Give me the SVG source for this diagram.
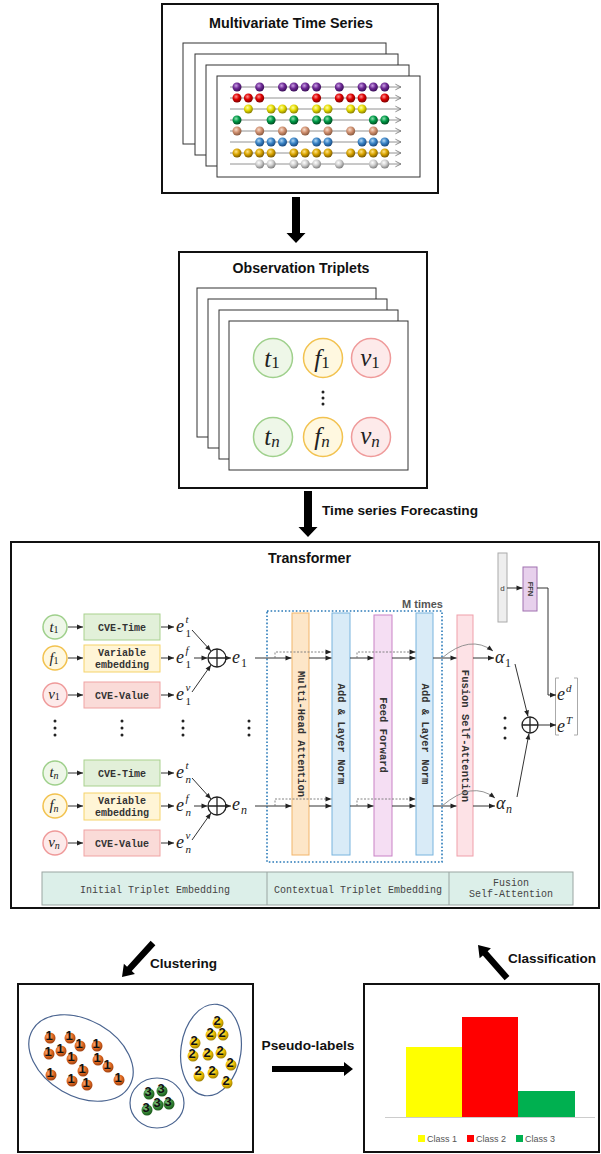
<svg xmlns="http://www.w3.org/2000/svg" width="601" height="1154" viewBox="0 0 601 1154">
<style>
.frame{fill:#fff;stroke:#111;stroke-width:2}
.page{fill:#fff;stroke:#333;stroke-width:1}
.title{font-family:"Liberation Sans",Arial,sans-serif;font-weight:bold;fill:#111}
.math{font-family:"Liberation Serif","DejaVu Serif",serif;font-style:italic;fill:#222}
.up{font-style:normal}
.mono{font-family:"Liberation Mono","DejaVu Sans Mono",monospace;font-weight:bold;fill:#333;font-size:10px}
.monol{font-family:"Liberation Mono","DejaVu Sans Mono",monospace;fill:#444;font-size:10px}
.vt{font-family:"Liberation Mono","DejaVu Sans Mono",monospace;font-weight:bold;fill:#333;font-size:10.5px}
.arr{stroke:#333;stroke-width:1;fill:none;marker-end:url(#ah)}
.dsh{stroke:#777;stroke-width:0.9;stroke-dasharray:2 1.5;fill:none;marker-end:url(#ah)}
.arc{stroke:#888;stroke-width:0.9;fill:none;marker-end:url(#ah)}
.row{stroke:#777;stroke-width:0.8;fill:none;marker-end:url(#chev)}
.dot{fill:#222}
.cg{fill:#eef7e8;stroke:#9fd08c;stroke-width:1.5}
.cy{fill:#fff8e0;stroke:#f2c24f;stroke-width:1.5}
.cr{fill:#fdeaea;stroke:#ef9a9a;stroke-width:1.5}
.bg{fill:#e2f0d9;stroke:#a9d18e}
.by{fill:#fff5d6;stroke:#f5d36b}
.br{fill:#fadbd8;stroke:#f0a3a3}
.mha{fill:#fde6c8;stroke:#f2b56b}
.an{fill:#d9ebf7;stroke:#79b4de}
.ff{fill:#f5def3;stroke:#c982c6}
.fsa{fill:#fde2e6;stroke:#ef9faa}
.band{fill:#dcefe9;stroke:#9aa5a2}
.opl{fill:none;stroke:#222;stroke-width:1.3}
.ell{fill:none;stroke:#4a6490;stroke-width:1.2}
.dig{font-family:"Liberation Sans",Arial,sans-serif;font-weight:bold;font-size:13px;fill:#111;text-anchor:middle}
.leg{font-family:"Liberation Sans",Arial,sans-serif;font-size:9px;fill:#555}
.thick{fill:#000}
</style>
<defs>
  <marker id="ah" markerUnits="userSpaceOnUse" markerWidth="7" markerHeight="6" viewBox="0 0 10 10" refX="10" refY="5" orient="auto">
    <path d="M0,1 L10,5 L0,9 z" fill="#222"/>
  </marker>
  <marker id="chev" markerUnits="userSpaceOnUse" markerWidth="7" markerHeight="8" viewBox="0 0 10 10" refX="9" refY="5" orient="auto">
    <path d="M1,1 L9,5 L1,9" fill="none" stroke="#777" stroke-width="1.2"/>
  </marker>
  <radialGradient id="gPu" cx="40%" cy="35%" r="65%"><stop offset="0" stop-color="#c9a0e4"/><stop offset="0.5" stop-color="#6e2a96"/><stop offset="1" stop-color="#3b0f58"/></radialGradient>
  <radialGradient id="gRe" cx="40%" cy="35%" r="65%"><stop offset="0" stop-color="#ff9090"/><stop offset="0.5" stop-color="#dd0000"/><stop offset="1" stop-color="#800000"/></radialGradient>
  <radialGradient id="gYe" cx="40%" cy="35%" r="65%"><stop offset="0" stop-color="#ffffa8"/><stop offset="0.5" stop-color="#e6dc00"/><stop offset="1" stop-color="#8a8000"/></radialGradient>
  <radialGradient id="gGr" cx="40%" cy="35%" r="65%"><stop offset="0" stop-color="#8fe0b0"/><stop offset="0.5" stop-color="#009a48"/><stop offset="1" stop-color="#004d20"/></radialGradient>
  <radialGradient id="gTa" cx="40%" cy="35%" r="65%"><stop offset="0" stop-color="#f8dccb"/><stop offset="0.5" stop-color="#d09070"/><stop offset="1" stop-color="#8a5a40"/></radialGradient>
  <radialGradient id="gBl" cx="40%" cy="35%" r="65%"><stop offset="0" stop-color="#b4d8f4"/><stop offset="0.5" stop-color="#3a84c6"/><stop offset="1" stop-color="#1a4a80"/></radialGradient>
  <radialGradient id="gGo" cx="40%" cy="35%" r="65%"><stop offset="0" stop-color="#ffe48a"/><stop offset="0.5" stop-color="#d9a400"/><stop offset="1" stop-color="#7a5a00"/></radialGradient>
  <radialGradient id="gGy" cx="40%" cy="35%" r="65%"><stop offset="0" stop-color="#ffffff"/><stop offset="0.5" stop-color="#cfcfcf"/><stop offset="1" stop-color="#808080"/></radialGradient>
  <radialGradient id="kOr" cx="40%" cy="35%" r="65%"><stop offset="0" stop-color="#ffb888"/><stop offset="0.55" stop-color="#e06a20"/><stop offset="1" stop-color="#a04010"/></radialGradient>
  <radialGradient id="kYe" cx="40%" cy="35%" r="65%"><stop offset="0" stop-color="#fff07a"/><stop offset="0.55" stop-color="#f0c000"/><stop offset="1" stop-color="#a08000"/></radialGradient>
  <radialGradient id="kGr" cx="40%" cy="35%" r="65%"><stop offset="0" stop-color="#90d090"/><stop offset="0.55" stop-color="#3a8a3a"/><stop offset="1" stop-color="#1a5a1a"/></radialGradient>
</defs>
<rect width="601" height="1154" fill="#fff"/>

<!-- Stage 1: multivariate time series -->
<g id="node-mts">
  <rect class="frame" x="162" y="4" width="276" height="189"/>
  <text class="title" x="291" y="28" font-size="14.5" text-anchor="middle" textLength="164" lengthAdjust="spacingAndGlyphs">Multivariate Time Series</text>
  <rect class="page" x="183" y="43" width="203" height="101"/>
  <rect class="page" x="195" y="54" width="203" height="101"/>
  <rect class="page" x="206" y="65" width="203" height="101"/>
  <rect class="page" x="217" y="76" width="203" height="101"/>
  <g>
    <path class="row" d="M230,87 H401"/><path class="row" d="M230,98 H401"/>
    <path class="row" d="M230,109 H401"/><path class="row" d="M230,120 H401"/>
    <path class="row" d="M230,131 H401"/><path class="row" d="M230,142 H401"/>
    <path class="row" d="M230,153 H401"/><path class="row" d="M230,164 H401"/>
  </g>
  <g fill="url(#gPu)">
    <circle cx="237" cy="87" r="4.5"/><circle cx="259.7" cy="87" r="4.5"/><circle cx="282.5" cy="87" r="4.5"/><circle cx="293.9" cy="87" r="4.5"/><circle cx="305.2" cy="87" r="4.5"/><circle cx="316.6" cy="87" r="4.5"/><circle cx="339.3" cy="87" r="4.5"/><circle cx="362.1" cy="87" r="4.5"/><circle cx="373.4" cy="87" r="4.5"/><circle cx="384.8" cy="87" r="4.5"/>
  </g>
  <g fill="url(#gRe)">
    <circle cx="237" cy="98" r="4.5"/><circle cx="248.4" cy="98" r="4.5"/><circle cx="259.7" cy="98" r="4.5"/><circle cx="316.6" cy="98" r="4.5"/><circle cx="339.3" cy="98" r="4.5"/><circle cx="350.7" cy="98" r="4.5"/><circle cx="362.1" cy="98" r="4.5"/><circle cx="384.8" cy="98" r="4.5"/>
  </g>
  <g fill="url(#gYe)">
    <circle cx="248.4" cy="109" r="4.5"/><circle cx="271.1" cy="109" r="4.5"/><circle cx="282.5" cy="109" r="4.5"/><circle cx="293.9" cy="109" r="4.5"/><circle cx="316.6" cy="109" r="4.5"/><circle cx="328" cy="109" r="4.5"/><circle cx="350.7" cy="109" r="4.5"/><circle cx="362.1" cy="109" r="4.5"/>
  </g>
  <g fill="url(#gGr)">
    <circle cx="237" cy="120" r="4.5"/><circle cx="271.1" cy="120" r="4.5"/><circle cx="293.9" cy="120" r="4.5"/><circle cx="316.6" cy="120" r="4.5"/><circle cx="328" cy="120" r="4.5"/><circle cx="373.4" cy="120" r="4.5"/><circle cx="384.8" cy="120" r="4.5"/>
  </g>
  <g fill="url(#gTa)">
    <circle cx="237" cy="131" r="4.5"/><circle cx="259.7" cy="131" r="4.5"/><circle cx="282.5" cy="131" r="4.5"/><circle cx="305.2" cy="131" r="4.5"/><circle cx="328" cy="131" r="4.5"/><circle cx="350.7" cy="131" r="4.5"/><circle cx="373.4" cy="131" r="4.5"/>
  </g>
  <g fill="url(#gBl)">
    <circle cx="259.7" cy="142" r="4.5"/><circle cx="271.1" cy="142" r="4.5"/><circle cx="282.5" cy="142" r="4.5"/><circle cx="293.9" cy="142" r="4.5"/><circle cx="316.6" cy="142" r="4.5"/><circle cx="328" cy="142" r="4.5"/><circle cx="362.1" cy="142" r="4.5"/><circle cx="373.4" cy="142" r="4.5"/><circle cx="384.8" cy="142" r="4.5"/>
  </g>
  <g fill="url(#gGo)">
    <circle cx="237" cy="153" r="4.5"/><circle cx="248.4" cy="153" r="4.5"/><circle cx="259.7" cy="153" r="4.5"/><circle cx="271.1" cy="153" r="4.5"/><circle cx="293.9" cy="153" r="4.5"/><circle cx="305.2" cy="153" r="4.5"/><circle cx="316.6" cy="153" r="4.5"/><circle cx="328" cy="153" r="4.5"/><circle cx="350.7" cy="153" r="4.5"/><circle cx="362.1" cy="153" r="4.5"/><circle cx="373.4" cy="153" r="4.5"/><circle cx="384.8" cy="153" r="4.5"/>
  </g>
  <g fill="url(#gGy)">
    <circle cx="259.7" cy="164" r="4.5"/><circle cx="271.1" cy="164" r="4.5"/><circle cx="293.9" cy="164" r="4.5"/><circle cx="305.2" cy="164" r="4.5"/><circle cx="316.6" cy="164" r="4.5"/><circle cx="339.3" cy="164" r="4.5"/><circle cx="373.4" cy="164" r="4.5"/><circle cx="384.8" cy="164" r="4.5"/>
  </g>
</g>

<!-- Stage 2: observation triplets -->
<g id="node-triplets">
  <rect class="frame" x="179" y="252" width="248" height="236"/>
  <text class="title" x="301" y="273" font-size="14" text-anchor="middle" textLength="137" lengthAdjust="spacingAndGlyphs">Observation Triplets</text>
  <rect class="page" x="197" y="288" width="179" height="149"/>
  <rect class="page" x="208" y="299" width="179" height="149"/>
  <rect class="page" x="219" y="310" width="179" height="149"/>
  <rect class="page" x="229" y="321" width="179" height="149"/>
  <circle class="cg" cx="273" cy="358" r="19.5"/>
  <circle class="cy" cx="323" cy="358" r="19.5"/>
  <circle class="cr" cx="371" cy="358" r="19.5"/>
  <circle class="cg" cx="273" cy="437" r="19.5"/>
  <circle class="cy" cx="323" cy="437" r="19.5"/>
  <circle class="cr" cx="371" cy="437" r="19.5"/>
  <text class="math" x="272" y="367" font-size="25" text-anchor="middle">t<tspan class="up" font-size="17" dy="1">1</tspan></text>
  <text class="math" x="322" y="367" font-size="25" text-anchor="middle">f<tspan class="up" font-size="17" dy="1">1</tspan></text>
  <text class="math" x="370" y="366" font-size="25" text-anchor="middle">v<tspan class="up" font-size="17" dy="2">1</tspan></text>
  <text class="math" x="272" y="445" font-size="25" text-anchor="middle">t<tspan font-size="17" dy="2">n</tspan></text>
  <text class="math" x="322" y="445" font-size="25" text-anchor="middle">f<tspan font-size="17" dy="2">n</tspan></text>
  <text class="math" x="370" y="444" font-size="25" text-anchor="middle">v<tspan font-size="17" dy="3">n</tspan></text>
  <circle class="dot" cx="323" cy="392" r="1.5"/><circle class="dot" cx="323" cy="398" r="1.5"/><circle class="dot" cx="323" cy="404" r="1.5"/>
</g>

<!-- Stage 3: transformer -->
<g id="node-transformer">
  <rect class="frame" x="11" y="542" width="588" height="366"/>
  <text class="title" x="268" y="563" font-size="14" textLength="83" lengthAdjust="spacingAndGlyphs">Transformer</text>

  <!-- input triplets -->
  <circle class="cg" cx="55" cy="627" r="12"/>
  <circle class="cy" cx="55" cy="658" r="12"/>
  <circle class="cr" cx="55" cy="695" r="12"/>
  <circle class="cg" cx="55" cy="773" r="12"/>
  <circle class="cy" cx="55" cy="806" r="12"/>
  <circle class="cr" cx="55" cy="843" r="12"/>
  <text class="math" x="54" y="632" font-size="15" text-anchor="middle">t<tspan class="up" font-size="10" dy="1">1</tspan></text>
  <text class="math" x="54" y="663" font-size="15" text-anchor="middle">f<tspan class="up" font-size="10" dy="1">1</tspan></text>
  <text class="math" x="54" y="699" font-size="15" text-anchor="middle">v<tspan class="up" font-size="10" dy="1">1</tspan></text>
  <text class="math" x="54" y="777" font-size="15" text-anchor="middle">t<tspan font-size="10" dy="2">n</tspan></text>
  <text class="math" x="54" y="810" font-size="15" text-anchor="middle">f<tspan font-size="10" dy="2">n</tspan></text>
  <text class="math" x="54" y="847" font-size="15" text-anchor="middle">v<tspan font-size="10" dy="2">n</tspan></text>

  <!-- embedding blocks -->
  <rect class="bg" x="84" y="614" width="76" height="26"/>
  <rect class="by" x="84" y="645" width="76" height="27"/>
  <rect class="br" x="84" y="682" width="76" height="26"/>
  <rect class="bg" x="84" y="760" width="76" height="26"/>
  <rect class="by" x="84" y="793" width="76" height="27"/>
  <rect class="br" x="84" y="830" width="76" height="26"/>
  <g text-anchor="middle">
    <text class="mono" x="122" y="630.5">CVE-Time</text>
    <text class="mono" x="122" y="656">Variable</text>
    <text class="mono" x="122" y="667.5">embedding</text>
    <text class="mono" x="122" y="698.5">CVE-Value</text>
    <text class="mono" x="122" y="776.5">CVE-Time</text>
    <text class="mono" x="122" y="804">Variable</text>
    <text class="mono" x="122" y="815.5">embedding</text>
    <text class="mono" x="122" y="846.5">CVE-Value</text>
  </g>

  <!-- per-variable embeddings -->
  <text class="math" x="176" y="632" font-size="18">e</text><text class="math" x="185.5" y="623" font-size="11">t</text><text class="math up" x="185.5" y="637" font-size="11">1</text>
  <text class="math" x="176" y="663" font-size="18">e</text><text class="math" x="185.5" y="654" font-size="11">f</text><text class="math up" x="185.5" y="668" font-size="11">1</text>
  <text class="math" x="176" y="700" font-size="18">e</text><text class="math" x="185.5" y="691" font-size="11">v</text><text class="math up" x="185.5" y="705" font-size="11">1</text>
  <text class="math" x="176" y="778" font-size="18">e</text><text class="math" x="185.5" y="769" font-size="11">t</text><text class="math" x="185.5" y="783" font-size="11">n</text>
  <text class="math" x="176" y="811" font-size="18">e</text><text class="math" x="185.5" y="802" font-size="11">f</text><text class="math" x="185.5" y="816" font-size="11">n</text>
  <text class="math" x="176" y="848" font-size="18">e</text><text class="math" x="185.5" y="839" font-size="11">v</text><text class="math" x="185.5" y="853" font-size="11">n</text>

  <!-- sum nodes -->
  <circle class="opl" cx="217" cy="658" r="9"/><path class="opl" d="M208,658 H226 M217,649 V667"/>
  <circle class="opl" cx="217" cy="806" r="9"/><path class="opl" d="M208,806 H226 M217,797 V815"/>
  <text class="math" x="232" y="663" font-size="18">e</text><text class="math up" x="241" y="667" font-size="12">1</text>
  <text class="math" x="232" y="810" font-size="18">e</text><text class="math" x="241" y="814" font-size="12">n</text>

  <!-- vertical ellipsis between rows -->
  <g class="dot">
    <circle cx="55" cy="721" r="1.5"/><circle cx="55" cy="728" r="1.5"/><circle cx="55" cy="735" r="1.5"/>
    <circle cx="122" cy="721" r="1.5"/><circle cx="122" cy="728" r="1.5"/><circle cx="122" cy="735" r="1.5"/>
    <circle cx="183" cy="721" r="1.5"/><circle cx="183" cy="728" r="1.5"/><circle cx="183" cy="735" r="1.5"/>
    <circle cx="249" cy="721" r="1.5"/><circle cx="249" cy="728" r="1.5"/><circle cx="249" cy="735" r="1.5"/>
    <circle cx="505" cy="718" r="1.5"/><circle cx="505" cy="728" r="1.5"/><circle cx="505" cy="738" r="1.5"/>
  </g>

  <!-- encoder stack repeated M times -->
  <rect x="267" y="611" width="175" height="251" fill="none" stroke="#2a7ab8" stroke-width="1.6" stroke-dasharray="1.6 2"/>
  <text x="443" y="608" font-family="Liberation Sans,Arial,sans-serif" font-weight="bold" font-size="11" fill="#555" text-anchor="end">M times</text>
  <rect class="mha" x="292" y="613" width="17" height="242"/>
  <rect class="an" x="332" y="613" width="18" height="242"/>
  <rect class="ff" x="374" y="615" width="18" height="241"/>
  <rect class="an" x="416" y="613" width="17" height="242"/>
  <rect class="fsa" x="457" y="615" width="16" height="241"/>
  <g text-anchor="middle" dominant-baseline="central">
    <text class="vt" transform="translate(300.5,734) rotate(90)">Multi-Head Attention</text>
    <text class="vt" transform="translate(341,734) rotate(90)">Add &amp; Layer Norm</text>
    <text class="vt" transform="translate(383,735) rotate(90)">Feed Forward</text>
    <text class="vt" transform="translate(424.5,734) rotate(90)">Add &amp; Layer Norm</text>
    <text class="vt" transform="translate(465,736) rotate(90)">Fusion Self-Attention</text>
  </g>

  <!-- fusion weights -->
  <text class="math" x="495" y="663" font-size="18">α</text><text class="math up" x="505" y="667" font-size="12">1</text>
  <text class="math" x="496" y="809" font-size="18">α</text><text class="math" x="506" y="813" font-size="12">n</text>
  <circle class="opl" cx="530" cy="725" r="8"/><path class="opl" d="M522,725 H538 M530,717 V733"/>

  <!-- static features branch -->
  <rect x="498" y="553" width="9" height="69" fill="#eeeeee" stroke="#aaa"/>
  <text x="502.5" y="591" font-family="Liberation Sans,Arial,sans-serif" font-size="8" fill="#333" text-anchor="middle">d</text>
  <rect x="523" y="567" width="14" height="44" fill="#e7d0ec" stroke="#a070b0"/>
  <text transform="translate(530,589) rotate(90)" font-family="Liberation Sans,Arial,sans-serif" font-weight="bold" font-size="7.5" fill="#333" text-anchor="middle" dominant-baseline="central">FFN</text>
  <text class="math" x="557" y="700" font-size="18">e</text><text class="math" x="566" y="692" font-size="11">d</text>
  <text class="math" x="557" y="732" font-size="18">e</text><text class="math" x="566" y="724" font-size="11">T</text>
  <path d="M559,678 H555.5 V735 H559 M574,678 H577.5 V735 H574" fill="none" stroke="#aaa" stroke-width="1"/>

  <!-- section band -->
  <rect class="band" x="42" y="872" width="531" height="33"/>
  <path d="M267,872 V905 M449,872 V905" stroke="#9aa5a2" stroke-width="1"/>
  <g text-anchor="middle">
    <text class="monol" x="155" y="893">Initial Triplet Embedding</text>
    <text class="monol" x="358" y="893">Contextual Triplet Embedding</text>
    <text class="monol" x="511" y="886">Fusion</text>
    <text class="monol" x="511" y="897">Self-Attention</text>
  </g>
</g>

<!-- Stage 4: clustering -->
<g id="node-clusters">
  <rect class="frame" x="18" y="984" width="235" height="168"/>
  <ellipse class="ell" cx="81" cy="1058" rx="56" ry="38" transform="rotate(30 81 1058)"/>
  <ellipse class="ell" cx="157" cy="1103" rx="27" ry="25"/>
  <ellipse class="ell" cx="211" cy="1050" rx="30" ry="46" transform="rotate(8 211 1050)"/>
  <g fill="url(#kOr)">
    <circle cx="50" cy="1038" r="5.5"/><circle cx="70" cy="1038" r="5.5"/><circle cx="80" cy="1046" r="5.5"/><circle cx="97" cy="1046" r="5.5"/>
    <circle cx="49" cy="1054" r="5.5"/><circle cx="61" cy="1051" r="5.5"/><circle cx="72" cy="1059" r="5.5"/><circle cx="98" cy="1060" r="5.5"/>
    <circle cx="108" cy="1067" r="5.5"/><circle cx="83" cy="1071" r="5.5"/><circle cx="51" cy="1075" r="5.5"/><circle cx="72" cy="1081" r="5.5"/>
    <circle cx="87" cy="1085" r="5.5"/><circle cx="119" cy="1080" r="5.5"/>
  </g>
  <g class="dig">
    <text x="49" y="1040">1</text><text x="69" y="1040">1</text><text x="79" y="1048">1</text><text x="96" y="1048">1</text>
    <text x="48" y="1056">1</text><text x="60" y="1053">1</text><text x="71" y="1061">1</text><text x="97" y="1062">1</text>
    <text x="107" y="1069">1</text><text x="82" y="1073">1</text><text x="50" y="1077">1</text><text x="71" y="1083">1</text>
    <text x="86" y="1087">1</text><text x="118" y="1082">1</text>
  </g>
  <g fill="url(#kYe)">
    <circle cx="218" cy="1023" r="5.5"/><circle cx="211" cy="1035" r="5.5"/><circle cx="223" cy="1035" r="5.5"/><circle cx="195" cy="1043" r="5.5"/>
    <circle cx="208" cy="1055" r="5.5"/><circle cx="221" cy="1053" r="5.5"/><circle cx="193" cy="1056" r="5.5"/><circle cx="231" cy="1065" r="5.5"/>
    <circle cx="199" cy="1076" r="5.5"/><circle cx="213" cy="1073" r="5.5"/><circle cx="227" cy="1083" r="5.5"/>
  </g>
  <g class="dig">
    <text x="217" y="1025">2</text><text x="210" y="1037">2</text><text x="222" y="1037">2</text><text x="194" y="1045">2</text>
    <text x="207" y="1057">2</text><text x="220" y="1055">2</text><text x="192" y="1058">2</text><text x="230" y="1067">2</text>
    <text x="198" y="1075">2</text><text x="212" y="1075">2</text><text x="226" y="1085">2</text>
  </g>
  <g fill="url(#kGr)">
    <circle cx="149" cy="1094" r="5.5"/><circle cx="162" cy="1091" r="5.5"/><circle cx="147" cy="1110" r="5.5"/><circle cx="158" cy="1105" r="5.5"/><circle cx="169" cy="1104" r="5.5"/>
  </g>
  <g class="dig">
    <text x="148" y="1096">3</text><text x="161" y="1093">3</text><text x="146" y="1112">3</text><text x="157" y="1107">3</text><text x="168" y="1106">3</text>
  </g>
</g>

<!-- Stage 5: class histogram -->
<g id="node-classes">
  <rect class="frame" x="364" y="984" width="235" height="168"/>
  <rect x="406" y="1047" width="56" height="70" fill="#ffff00"/>
  <rect x="462" y="1017" width="56" height="100" fill="#ff0000"/>
  <rect x="518" y="1091" width="57" height="26" fill="#00b050"/>
  <path d="M385,1117.5 H595" stroke="#ccc" stroke-width="1"/>
  <rect x="418" y="1135" width="7" height="7" fill="#ffff00"/>
  <text class="leg" x="427" y="1142">Class 1</text>
  <rect x="467" y="1135" width="7" height="7" fill="#ff0000"/>
  <text class="leg" x="476" y="1142">Class 2</text>
  <rect x="516" y="1135" width="7" height="7" fill="#00b050"/>
  <text class="leg" x="525" y="1142">Class 3</text>
</g>

<!-- Connectors -->
<g id="connectors">
  <!-- pipeline arrows -->
  <polygon class="thick" points="292,197 300,197 300,233 305.5,233 296,243 286.5,233 292,233"/>
  <polygon class="thick" points="304,491 312,491 312,527 317.5,527 308,537 298.5,527 304,527"/>
  <text class="title" x="322" y="515" font-size="13.5" textLength="156" lengthAdjust="spacingAndGlyphs">Time series Forecasting</text>
  <polygon class="thick" transform="translate(122,977) rotate(132.4)" points="0,0 -11,-7.5 -11,-3.2 -46,-3.2 -46,3.2 -11,3.2 -11,7.5"/>
  <text class="title" x="150" y="968" font-size="13.5" textLength="67" lengthAdjust="spacingAndGlyphs">Clustering</text>
  <polygon class="thick" transform="translate(478,945) rotate(228.7)" points="0,0 -11,-7.5 -11,-3.2 -44,-3.2 -44,3.2 -11,3.2 -11,7.5"/>
  <text class="title" x="508" y="963" font-size="13.5" textLength="88" lengthAdjust="spacingAndGlyphs">Classification</text>
  <polygon class="thick" points="272,1066 344,1066 344,1062 353,1069 344,1076 344,1072 272,1072"/>
  <text class="title" x="308" y="1050" font-size="13.5" text-anchor="middle" textLength="93" lengthAdjust="spacingAndGlyphs">Pseudo-labels</text>

  <!-- triplet to embedding -->
  <path class="arr" d="M68,627 H83"/><path class="arr" d="M68,658 H83"/><path class="arr" d="M68,695 H83"/>
  <path class="arr" d="M68,773 H83"/><path class="arr" d="M68,806 H83"/><path class="arr" d="M68,843 H83"/>
  <path class="arr" d="M161,627 H174"/><path class="arr" d="M161,658 H174"/><path class="arr" d="M161,695 H174"/>
  <path class="arr" d="M161,773 H174"/><path class="arr" d="M161,806 H174"/><path class="arr" d="M161,843 H174"/>
  <!-- embeddings into sum -->
  <path class="arr" d="M192,630 L211,651"/><path class="arr" d="M194,658 H207.5"/><path class="arr" d="M192,692 L211,665"/>
  <path class="arr" d="M192,778 L211,799"/><path class="arr" d="M194,806 H207.5"/><path class="arr" d="M192,840 L211,813"/>
  <path class="arr" d="M226,658 H231"/><path class="arr" d="M226,806 H231"/>

  <!-- encoder row 1 -->
  <path class="arr" d="M255,658 H291.5"/>
  <path class="dsh" d="M275,658 V652 H331.5"/>
  <path class="arr" d="M309,658 H331.5"/>
  <path class="arr" d="M350,658 H373.5"/>
  <path class="dsh" d="M357,658 V652 H415.5"/>
  <path class="arr" d="M392,658 H415.5"/>
  <path class="arr" d="M433,658 H456.5"/>
  <path class="arc" d="M442,658 Q470,634 493,651"/>
  <path class="arr" d="M473,658 H494"/>
  <!-- encoder row n -->
  <path class="arr" d="M255,806 H291.5"/>
  <path class="dsh" d="M275,806 V799 H331.5"/>
  <path class="arr" d="M309,806 H331.5"/>
  <path class="arr" d="M350,806 H373.5"/>
  <path class="dsh" d="M357,806 V799 H415.5"/>
  <path class="arr" d="M392,806 H415.5"/>
  <path class="arr" d="M433,806 H456.5"/>
  <path class="arc" d="M442,806 Q472,780 495,798"/>
  <path class="arr" d="M473,806 H495"/>

  <!-- fusion and output -->
  <path class="arr" d="M515,664 L528,716.5"/>
  <path class="arr" d="M517,797 L529,733.5"/>
  <path class="arr" d="M538,725 H556"/>
  <path class="arr" d="M507,588 H522.5"/>
  <path class="arr" d="M537,588 H548 V695 H556"/>
</g>
</svg>
